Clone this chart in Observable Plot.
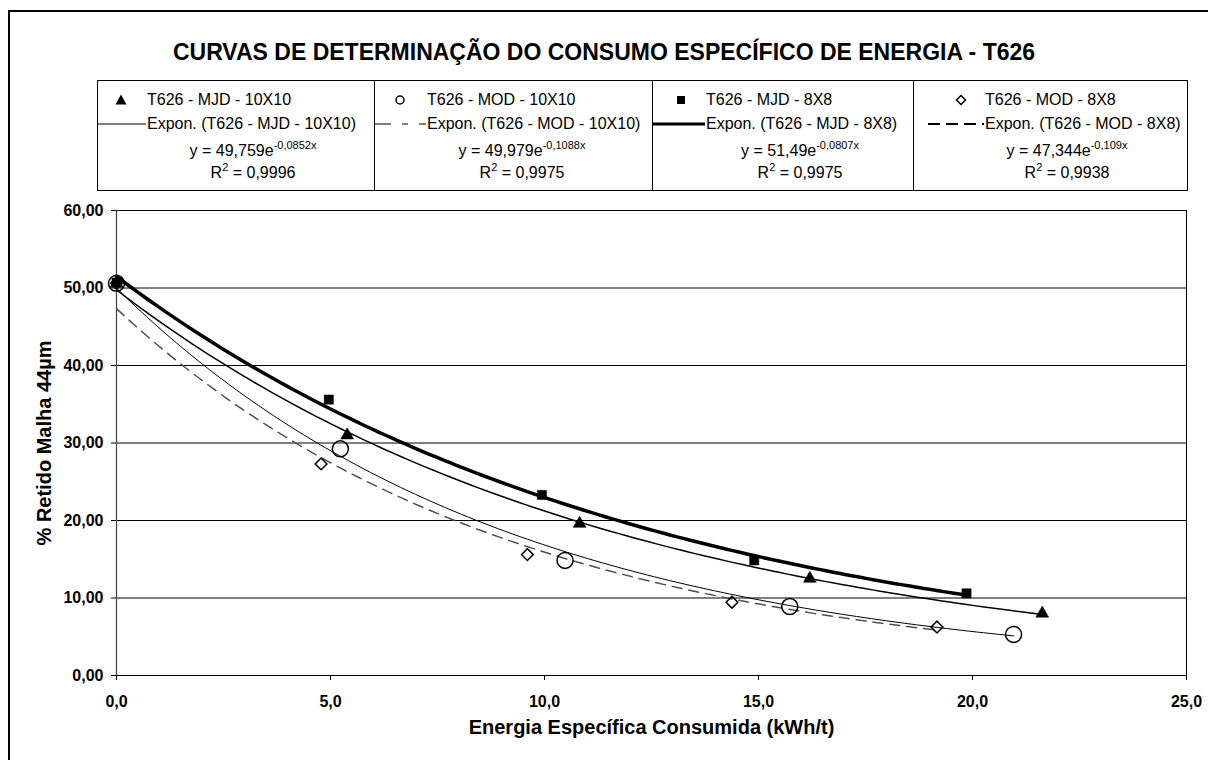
<!DOCTYPE html>
<html>
<head>
<meta charset="utf-8">
<script src="https://cdn.jsdelivr.net/npm/d3@7"></script>
<script src="https://cdn.jsdelivr.net/npm/@observablehq/plot@0.6"></script>
<style>
  body { margin: 0; background: #fff; font-family: Arial, "Liberation Sans", sans-serif; }
  #wrap { position: relative; width: 1208px; height: 760px; overflow: hidden; background: #fff; }
  #frame { position: absolute; left: 8px; top: 10px; width: 1400px; height: 900px;
           border-left: 2px solid #000; border-top: 2px solid #000; }
  #title { position: absolute; left: 0; top: 39px; width: 1208px; text-align: center;
           font-weight: bold; font-size: 23px; line-height: 26px; color: #000; }
  #legend { position: absolute; left: 97px; top: 80px; width: 1091px; height: 111px;
            border: 1px solid #000; box-sizing: border-box; }
  .div { position: absolute; top: 0; bottom: 0; width: 0; border-left: 1px solid #000; }
  .lt { position: absolute; font-size: 16px; line-height: 18px; white-space: nowrap; color: #000; }
  .lt sup { font-size: 11px; vertical-align: 0; position: relative; top: -7px; }
  .sym { position: absolute; }
  #chart { position: absolute; left: 0; top: 200px; }
</style>
</head>
<body>
<div id="wrap">
  <div id="frame"></div>
  <div id="title"></div>
  <div id="legend"></div>
  <div id="chart"></div>
</div>
<script>
// ---------- data ----------
const titleText = "CURVAS DE DETERMINAÇÃO DO CONSUMO ESPECÍFICO DE ENERGIA - T626";
const xLabel = "Energia Específica Consumida (kWh/t)";
const yLabel = "% Retido Malha 44µm";
const xTicks = [0, 5, 10, 15, 20, 25];
const yTicks = [0, 10, 20, 30, 40, 50, 60];

const seriesNames = ["T626 - MJD - 10X10", "T626 - MOD - 10X10", "T626 - MJD - 8X8", "T626 - MOD - 8X8"];

const energyMJD10 = [0, 5.39, 10.82, 16.2, 21.63];
const retidoMJD10 = [50.6, 31.0, 19.6, 12.5, 8.0];
const energyMOD10 = [0, 5.23, 10.48, 15.73, 20.96];
const retidoMOD10 = [50.6, 29.25, 14.85, 8.9, 5.3];
const energyMJD8 = [0, 4.96, 9.94, 14.9, 19.86];
const retidoMJD8 = [50.7, 35.6, 23.3, 14.85, 10.6];
const energyMOD8 = [0, 4.78, 9.6, 14.38, 19.17];
const retidoMOD8 = [50.6, 27.3, 15.6, 9.45, 6.25];

// exponential trendline coefficients printed on the chart: y = a·e^(b·x)
const fitA = [49.759, 49.979, 51.49, 47.344];
const fitB = [-0.0852, -0.1088, -0.0807, -0.109];
const fitAText = ["49,759", "49,979", "51,49", "47,344"];
const fitBText = ["-0,0852", "-0,1088", "-0,0807", "-0,109"];
const r2Text = ["0,9996", "0,9975", "0,9975", "0,9938"];

// ---------- build tables ----------
const energies = [energyMJD10, energyMOD10, energyMJD8, energyMOD8];
const retidos = [retidoMJD10, retidoMOD10, retidoMJD8, retidoMOD8];
const points = [];
energies.forEach((xs, s) => xs.forEach((x, i) => points.push({ s, x, y: retidos[s][i] })));

const trend = [];
energies.forEach((xs, s) => {
  const xmax = xs[xs.length - 1];
  const n = 120;
  for (let i = 0; i <= n; i++) {
    const x = xmax * i / n;
    trend.push({ s, x, y: fitA[s] * Math.exp(fitB[s] * x) });
  }
});

// ---------- styles ----------
const lineStyle = [
  { stroke: "#000", strokeWidth: 1.5, dash: null },
  { stroke: "#000", strokeWidth: 1, dash: null },
  { stroke: "#000", strokeWidth: 3.5, dash: null },
  { stroke: "#505050", strokeWidth: 1.5, dash: "10,7" }
];
const fmtX = d => d.toFixed(1).replace(".", ",");
const fmtY = d => d.toFixed(2).replace(".", ",");

// ---------- title ----------
document.getElementById("title").textContent = titleText;

// ---------- legend ----------
const legend = document.getElementById("legend");
const L0 = 97, T0 = 80;
const colLeft = [97, 374, 652, 913];
const symX = [121, 400, 681, 961];
const textX = [147, 427, 706, 985];
const lineX0 = [97, 375, 653, 928];
const eqCenter = [253, 522, 800, 1067];
const rowY = [100, 124, 151, 173];

colLeft.slice(1).forEach(x => {
  const d = document.createElement("div");
  d.className = "div";
  d.style.left = (x - L0 - 1) + "px";
  legend.appendChild(d);
});

const svgNS = "http://www.w3.org/2000/svg";
function mkSvg(x, y, w, h) {
  const s = document.createElementNS(svgNS, "svg");
  s.setAttribute("width", w); s.setAttribute("height", h);
  s.setAttribute("class", "sym");
  s.style.left = (x - L0 - 1) + "px"; s.style.top = (y - T0 - 1) + "px";
  legend.appendChild(s);
  return s;
}
function el(parent, tag, attrs) {
  const e = document.createElementNS(svgNS, tag);
  for (const k in attrs) e.setAttribute(k, attrs[k]);
  parent.appendChild(e);
  return e;
}
function addText(html, x, yc, center) {
  const d = document.createElement("div");
  d.className = "lt";
  d.innerHTML = html;
  d.style.left = (x - L0 - 1) + "px";
  d.style.top = (yc - T0 - 1 - 9) + "px";
  if (center) d.style.transform = "translateX(-50%)";
  legend.appendChild(d);
}

for (let s = 0; s < 4; s++) {
  // marker
  const m = mkSvg(symX[s] - 8, rowY[0] - 8, 16, 16);
  if (s === 0) el(m, "path", { d: "M8,2.5 L13.5,12.5 L2.5,12.5 Z", fill: "#000" });
  if (s === 1) el(m, "circle", { cx: 8, cy: 8, r: 4, fill: "none", stroke: "#000", "stroke-width": 1.5 });
  if (s === 2) el(m, "rect", { x: 4, y: 4, width: 8, height: 8, fill: "#000" });
  if (s === 3) el(m, "path", { d: "M8,3.5 L12.5,8 L8,12.5 L3.5,8 Z", fill: "none", stroke: "#000", "stroke-width": 1.5 });
  addText(seriesNames[s], textX[s], rowY[0], false);
  // line sample
  const w = textX[s] - lineX0[s];
  const l = mkSvg(lineX0[s], rowY[1] - 5, w, 10);
  const ls = { x1: 0, y1: 5, x2: w - 1, y2: 5, stroke: "#000" };
  if (s === 0) ls["stroke-width"] = 1.2;
  if (s === 1) { ls["stroke-width"] = 1.2; ls["stroke-dasharray"] = "16,11,6,11"; }
  if (s === 2) ls["stroke-width"] = 3;
  if (s === 3) { ls["stroke-width"] = 2; ls["stroke-dasharray"] = "12,6"; }
  el(l, "line", ls);
  addText("Expon. (" + seriesNames[s] + ")", textX[s], rowY[1], false);
  addText("y = " + fitAText[s] + "e<sup>" + fitBText[s] + "x</sup>", eqCenter[s], rowY[2], true);
  addText("R<sup>2</sup> = " + r2Text[s], eqCenter[s], rowY[3], true);
}

// ---------- chart ----------
const symbols = ["triangle", "circle", "square", "diamond2"];
const symR = [4.8, 8, 5.2, 5.3];
const symFill = ["#000", "none", "#000", "none"];

const marks = [
  Plot.gridY(yTicks.slice(1), { stroke: "#000", strokeOpacity: 1, strokeWidth: 1 }),
  Plot.ruleX([25], { stroke: "#000", strokeWidth: 1 }),
  Plot.ruleX([0], { stroke: "#404040", strokeWidth: 1.2 }),
  Plot.ruleY([0], { stroke: "#000", strokeWidth: 1.2 }),
  Plot.axisX({ ticks: xTicks, tickFormat: fmtX, tickSize: 5, tickPadding: 15, fontSize: 16, fontWeight: "bold", label: null }),
  Plot.axisY({ ticks: yTicks, tickFormat: fmtY, tickSize: 5, tickPadding: 8, fontSize: 16, fontWeight: "bold", label: null }),
  Plot.text([xLabel], { frameAnchor: "bottom", dy: 58, fontSize: 20, fontWeight: "bold" }),
  Plot.text([yLabel], { frameAnchor: "left", dx: -72, rotate: -90, textAnchor: "middle", fontSize: 20, fontWeight: "bold" })
];
for (let s = 0; s < 4; s++) {
  marks.push(Plot.line(trend.filter(d => d.s === s), {
    x: "x", y: "y", stroke: lineStyle[s].stroke, strokeWidth: lineStyle[s].strokeWidth,
    strokeDasharray: lineStyle[s].dash
  }));
}
for (let s = 0; s < 4; s++) {
  marks.push(Plot.dot(points.filter(d => d.s === s), {
    x: "x", y: "y", symbol: () => symbols[s], r: symR[s],
    fill: symFill[s], stroke: "#000", strokeWidth: symFill[s] === "none" ? 1.5 : 0.5
  }));
}

const chart = Plot.plot({
  width: 1208, height: 560,
  marginTop: 10, marginBottom: 85, marginLeft: 116, marginRight: 22,
  x: { domain: [0, 25] },
  y: { domain: [0, 60] },
  symbol: { type: "identity" },
  style: { fontFamily: "Arial, 'Liberation Sans', sans-serif", background: "transparent", color: "#000", overflow: "visible" },
  marks
});
document.getElementById("chart").appendChild(chart);
</script>
</body>
</html>
